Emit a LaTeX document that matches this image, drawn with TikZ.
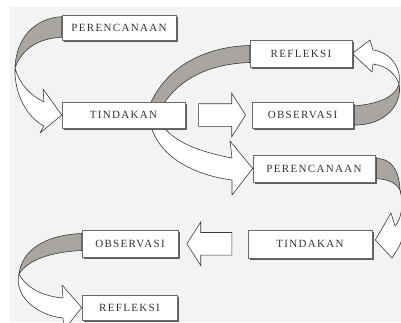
\documentclass[tikz,border=0pt]{standalone}
\usepackage{fontspec}
\usepackage{tikz}
\usetikzlibrary{shapes.arrows,shadows,calc,backgrounds}
\newfontfamily\stagefont[LetterSpace=12]{Liberation Serif}
\definecolor{cycleInk}{HTML}{3A3A3A}
\definecolor{cycleEdge}{HTML}{6A6A6A}
\definecolor{cycleGray}{HTML}{A9A6A2}
\definecolor{cyclePaper}{HTML}{F3F3F3}
\definecolor{cycleText}{HTML}{333333}
\tikzset{
  stageBox/.style={
    rectangle,
    draw=cycleEdge,
    fill=white,
    line width=0.6pt,
    inner sep=0pt,
    minimum height=26pt,
    font=\stagefont\fontsize{11}{13}\selectfont,
    text=cycleText,
    drop shadow={shadow xshift=1.6pt,shadow yshift=-1.6pt,fill=black!70,opacity=0.9}
  },
  blockArrow/.style={
    single arrow,
    draw=cycleInk,
    fill=white,
    line width=0.6pt,
    inner xsep=0pt,
    inner ysep=11pt,
    single arrow head extend=10.5pt,
    single arrow tip angle=115,
    minimum height=47pt
  },
  ribbonBack/.style={
    fill=cycleGray,
    draw=cycleInk,
    line width=0.6pt,
    line join=round
  },
  ribbonFront/.style={
    fill=white,
    draw=cycleInk,
    line width=0.6pt,
    line join=round
  }
}
\begin{document}
\begin{tikzpicture}[x=1pt,y=-1pt]
  \useasboundingbox (0,0) rectangle (401,322);
  % stages of the two cycles
  \node[stageBox,minimum width=114pt,minimum height=25pt] (plan1) at (119,27.5) {PERENCANAAN};
  \node[stageBox,minimum width=123pt] (act1) at (123.5,115) {TINDAKAN};
  \node[stageBox,minimum width=102pt,minimum height=27pt] (refl1) at (301,53.5) {REFLEKSI};
  \node[stageBox,minimum width=101pt] (obs1) at (302.5,115) {OBSERVASI};
  \node[stageBox,minimum width=122pt,minimum height=27pt] (plan2) at (314,168.5) {PERENCANAAN};
  \node[stageBox,minimum width=124pt,minimum height=28pt] (act2) at (310,244) {TINDAKAN};
  \node[stageBox,minimum width=96pt,minimum height=27pt] (obs2) at (130,243.5) {OBSERVASI};
  \node[stageBox,minimum width=95pt,minimum height=25pt] (refl2) at (129.5,307.5) {REFLEKSI};
  % straight steps
  \node[blockArrow] (go1) at ($(act1.east)!0.5!(obs1.west)$) {};
  \node[blockArrow,minimum height=45pt,shape border rotate=180] (go2) at ($(act2.west)!0.5!(obs2.east)$) {};
  \begin{pgfonlayer}{background}
    \fill[white] (0,0) rectangle (401,322);
    \fill[cyclePaper] (10,7) rectangle (401,322);
    % plan1 -> act1
    \path[ribbonBack] ($(plan1.north west)+(0,2)$) .. controls (35,18) and (16,38) .. (15,68)
      .. controls (22,48) and (40,38) .. ($(plan1.south west)+(0,-3)$) -- cycle;
    \path[ribbonFront] (15,68) .. controls (14,95) and (28,118) .. (44,126) -- (40,133) -- (act1.west)
      -- (43,89) -- (44,102) .. controls (30,95) and (20,85) .. (15,68) -- cycle;
    % refl1 -> plan2, behind act1
    \path[ribbonBack] ($(refl1.west)+(0,-8)$) .. controls (195,47) and (160,75) .. (148,110) -- (160,110)
      .. controls (175,82) and (205,64) .. ($(refl1.west)+(0,9)$) -- cycle;
    \path[ribbonFront] (150,122) .. controls (158,160) and (200,176) .. (232,180) -- (232,195) -- (plan2.west)
      -- (230,141) -- (232,158) .. controls (200,152) and (172,142) .. (160,122) -- cycle;
    % obs1 -> refl1
    \path[ribbonBack] ($(obs1.east)+(0,-9)$) .. controls (380,104) and (396,96) .. (399,84)
      .. controls (403,104) and (385,126) .. ($(obs1.east)+(0,10)$) -- cycle;
    \path[ribbonFront] (399,84) .. controls (402,68) and (390,52) .. (373,50) -- (370,40) -- (refl1.east)
      -- (372,72) -- (373,64) .. controls (388,66) and (396,75) .. (399,84) -- cycle;
    % plan2 -> act2
    \path[ribbonBack] ($(plan2.east)+(0,-10)$) .. controls (390,158) and (399,168) .. (400,190)
      .. controls (396,182) and (386,179) .. ($(plan2.east)+(0,10)$) -- cycle;
    \path[ribbonFront] (400,190) .. controls (404,205) and (401,220) .. (395,226) -- (391,213) -- ($(act2.east)+(3,-4)$)
      -- (392,258) -- (397,250) .. controls (406,238) and (407,205) .. (400,190) -- cycle;
    % obs2 -> refl2
    \path[ribbonBack] ($(obs2.west)+(0,-10)$) .. controls (45,235) and (22,250) .. (19,274)
      .. controls (28,260) and (50,252) .. ($(obs2.west)+(0,7)$) -- cycle;
    \path[ribbonFront] (19,274) .. controls (14,295) and (35,315) .. (63,318) -- (64,330) -- (refl2.west)
      -- (62,285) -- (63,298) .. controls (40,296) and (25,286) .. (19,274) -- cycle;
  \end{pgfonlayer}
\end{tikzpicture}
\end{document}
